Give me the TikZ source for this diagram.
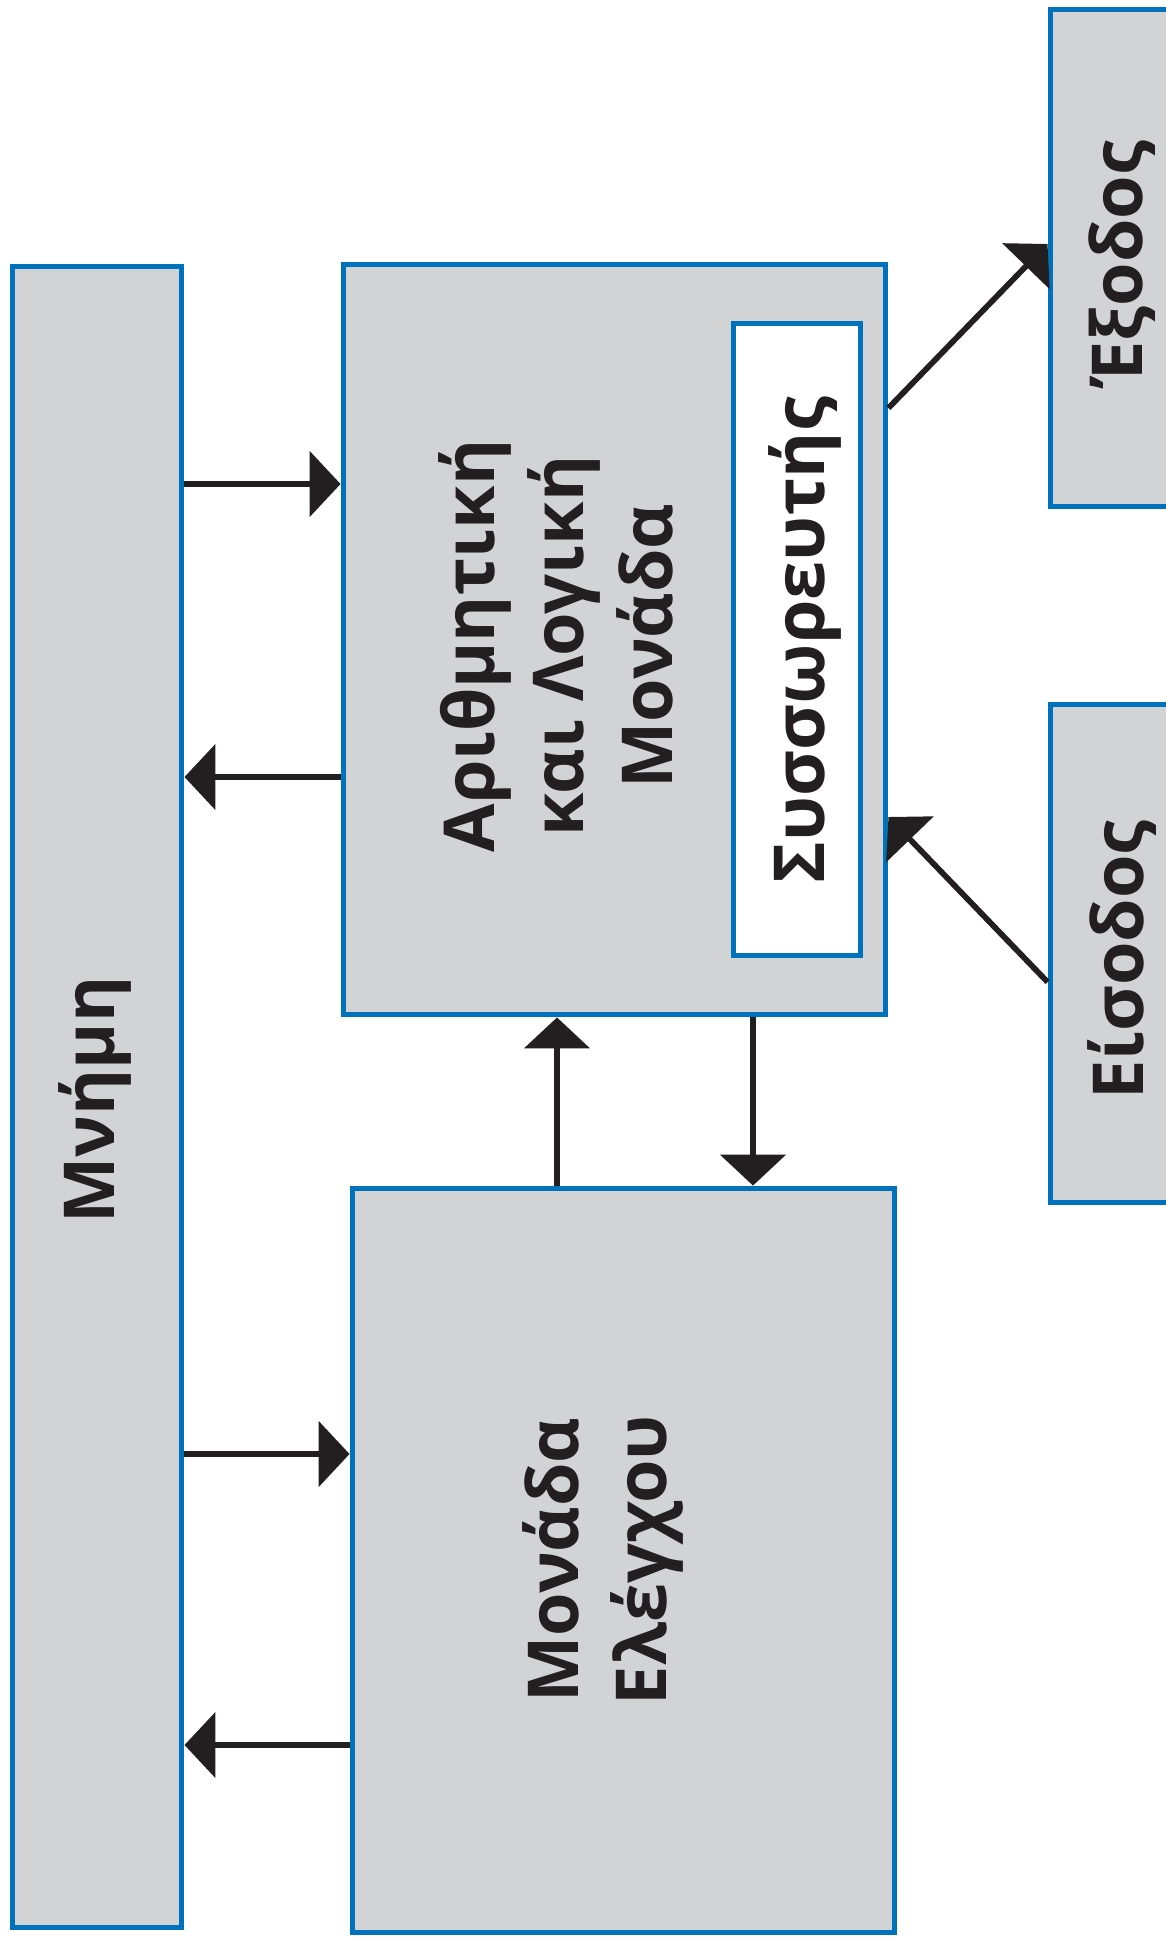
\documentclass[tikz,border=0pt]{standalone}
\usepackage{fontspec}
\setmainfont{Open Sans}
\usetikzlibrary{arrows.meta}
\definecolor{boxgray}{HTML}{D1D3D4}
\definecolor{boxblue}{HTML}{0072BC}
\definecolor{inkblack}{HTML}{231F20}
\begin{document}
\begin{tikzpicture}[x=0.02cm,y=-0.02cm,
    unit/.style={draw=boxblue,fill=boxgray,line width=0.1cm,inner sep=0pt},
    word/.style={rotate=90,align=center,text=inkblack,inner sep=0pt,
        font=\fontsize{40}{50.6}\selectfont\bfseries},
    flow/.style={draw=inkblack,line width=0.115cm,-{Triangle[length=0.62cm,width=1.3cm]}}]
    \useasboundingbox (0,0) rectangle (1166,1940);
    \clip (0,0) rectangle (1166,1940);

    \node[unit,minimum width=3.4cm,minimum height=33.24cm] (mem) at (97,1097) {};
    \node[unit,minimum width=10.86cm,minimum height=15.02cm] (alu) at (614.5,639.5) {};
    \node[unit,fill=white,minimum width=2.56cm,minimum height=12.66cm] (acc) at (797,639.5) {};
    \node[unit,minimum width=10.86cm,minimum height=14.9cm] (ctrl) at (623.5,1560.5) {};
    \node[unit,minimum width=4cm,minimum height=9.96cm] (out) at (1150,258) {};
    \node[unit,minimum width=4cm,minimum height=9.98cm] (in) at (1150,953.5) {};

    \node[word] (memtxt) at (95,1100) {Μνήμη};
    \node[word] (alutxt) at (556,646) {Αριθμητική\\και Λογική\\Μονάδα};
    \node[word] (acctxt) at (805,640) {Συσσωρευτής};
    \node[word] (ctrltxt) at (603,1560) {Μονάδα\\Ελέγχου};
    \node[word] (outtxt) at (1122,263) {Έξοδος};
    \node[word] (intxt) at (1122,960) {Είσοδος};

    \coordinate (ya) at (0,484);
    \coordinate (yb) at (0,777);
    \coordinate (yc) at (0,1454);
    \coordinate (yd) at (0,1745);
    \coordinate (xe) at (557,0);
    \coordinate (xf) at (753,0);
    \coordinate (yo1) at (0,408);
    \coordinate (yo2) at (0,244);
    \coordinate (yi1) at (0,982);
    \coordinate (yi2) at (0,817);

    \draw[flow] (mem.east |- ya) -- (alu.west |- ya);
    \draw[flow] (alu.west |- yb) -- (mem.east |- yb);
    \draw[flow] (mem.east |- yc) -- (ctrl.west |- yc);
    \draw[flow] (ctrl.west |- yd) -- (mem.east |- yd);
    \draw[flow] (xe |- ctrl.north) -- (xe |- alu.south);
    \draw[flow] (xf |- alu.south) -- (xf |- ctrl.north);
    \draw[flow] (alu.east |- yo1) -- (out.west |- yo2);
    \draw[flow] (in.west |- yi1) -- (alu.east |- yi2);

\end{tikzpicture}
\end{document}
